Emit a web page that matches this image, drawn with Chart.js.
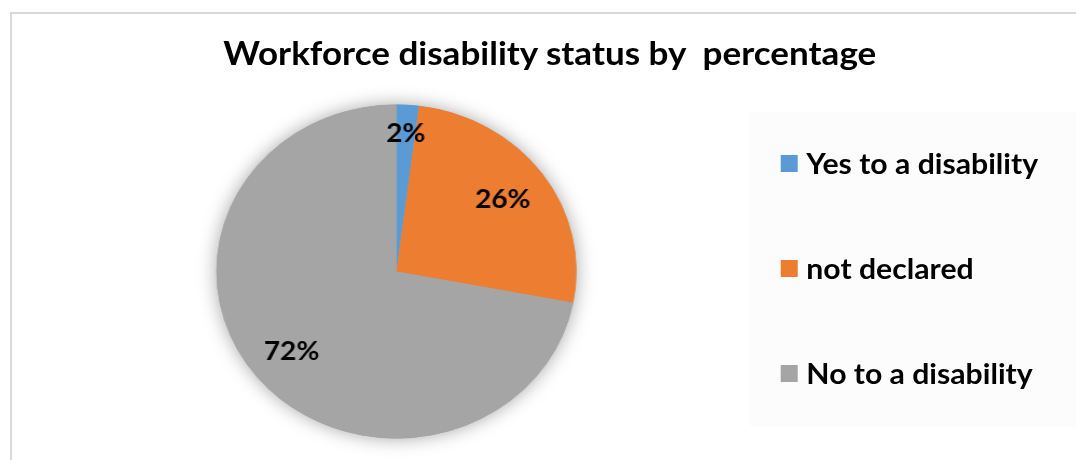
<!DOCTYPE html>
<html>
<head>
<meta charset="utf-8">
<script src="https://cdn.jsdelivr.net/npm/chart.js@4.4.1/dist/chart.umd.min.js"></script>
<style>
  html, body { margin: 0; padding: 0; background: #fff; overflow: hidden; }
  body { width: 1076px; height: 460px; position: relative; }
  #frame {
    position: absolute; left: 10px; top: 12px; width: 1100px; height: 500px;
    border-top: 2px solid #d9d9d9; border-left: 2px solid #d9d9d9;
  }
  #legendBg {
    position: absolute; left: 750px; top: 112px; width: 340px; height: 314px;
    background: #fcfcfc;
  }
  /* the source picture is stretched sideways, so everything inside is too */
  #wrap {
    position: absolute; left: 0; top: 0; width: 998px; height: 460px;
    transform: scaleX(1.078); transform-origin: 0 0;
    font-family: Lato, "Open Sans", sans-serif; font-weight: bold; color: #000;
  }
  #wrap canvas { position: absolute; left: 0; top: 0; }
  #title {
    position: absolute; left: 0; top: 33px; width: 1020px;
    text-align: center; font-size: 32.5px; line-height: 40px; white-space: pre;
  }
  .legend-row {
    position: absolute; left: 724px; height: 40px;
    display: flex; align-items: center; font-size: 28px; white-space: nowrap;
  }
  .legend-box { width: 16px; height: 17px; margin-right: 8px; flex: none; }
</style>
</head>
<body>
<div id="frame"></div>
<div id="legendBg"></div>
<div id="wrap">
  <canvas id="pieChart" width="998" height="460"></canvas>
  <div id="title"></div>
  <div id="legend"></div>
</div>
<script>
const titleText = "Workforce disability status by  percentage";
const categories = ["Yes to a disability", "not declared", "No to a disability"];
const percentages = [2, 26, 72];
const sliceColors = ["#5b9bd5", "#ed7d31", "#a5a5a5"];
const labelRadius = [0.826, 0.73, 0.756];

const FONT = "Lato, 'Open Sans', sans-serif";

const pieShadow = {
  id: "pieShadow",
  beforeDatasetsDraw(chart) {
    const arc = chart.getDatasetMeta(0).data[0];
    if (!arc) return;
    const ctx = chart.ctx;
    ctx.save();
    ctx.beginPath();
    ctx.arc(arc.x, arc.y, arc.outerRadius, 0, Math.PI * 2);
    ctx.shadowColor = "rgba(0,0,0,0.35)";
    ctx.shadowBlur = 18;
    ctx.fillStyle = sliceColors[2];
    ctx.fill();
    ctx.restore();
  }
};

const sliceLabels = {
  id: "sliceLabels",
  afterDatasetsDraw(chart) {
    const ctx = chart.ctx;
    const meta = chart.getDatasetMeta(0);
    ctx.save();
    ctx.font = "bold 26px " + FONT;
    ctx.fillStyle = "#000";
    ctx.textAlign = "center";
    ctx.textBaseline = "middle";
    meta.data.forEach((arc, i) => {
      const { x, y, startAngle, endAngle, outerRadius } = arc.getProps(["x", "y", "startAngle", "endAngle", "outerRadius"], true);
      const mid = (startAngle + endAngle) / 2;
      const r = outerRadius * labelRadius[i];
      ctx.fillText(percentages[i] + "%", x + Math.cos(mid) * r, y + Math.sin(mid) * r);
    });
    ctx.restore();
  }
};

const chart = new Chart(document.getElementById("pieChart"), {
  type: "pie",
  data: {
    labels: categories,
    datasets: [{
      data: percentages,
      backgroundColor: sliceColors,
      borderWidth: 0
    }]
  },
  options: {
    responsive: false,
    animation: false,
    events: [],
    layout: {
      padding: { left: 92, right: 354.5, top: 104.5, bottom: 21.5 }
    },
    plugins: {
      legend: { display: false },
      tooltip: { enabled: false }
    }
  },
  plugins: [pieShadow, sliceLabels]
});

document.getElementById("title").textContent = titleText;

// legend rows, centred at 163 / 268 / 373
const legendEl = document.getElementById("legend");
chart.options.plugins.legend.labels.generateLabels(chart).forEach((item, i) => {
  const row = document.createElement("div");
  row.className = "legend-row";
  row.style.top = (143 + i * 105) + "px";
  const box = document.createElement("span");
  box.className = "legend-box";
  box.style.background = item.fillStyle;
  const label = document.createElement("span");
  label.textContent = item.text;
  row.appendChild(box);
  row.appendChild(label);
  legendEl.appendChild(row);
});
</script>
</body>
</html>
